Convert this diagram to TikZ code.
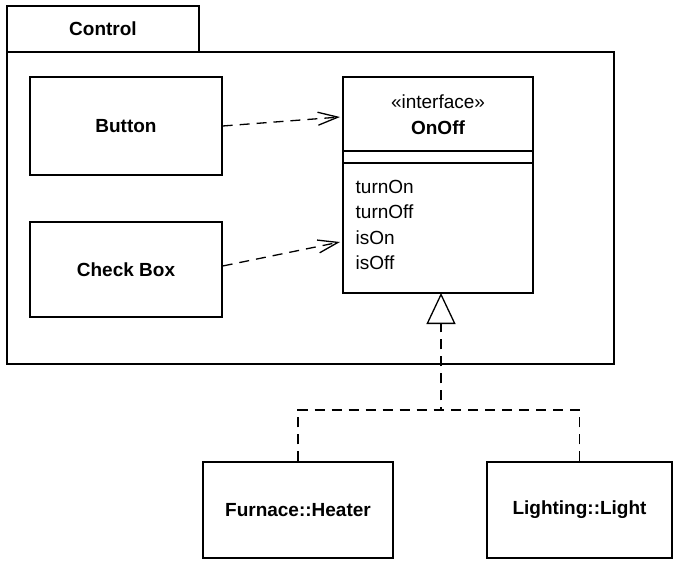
\documentclass[tikz,border=0pt]{standalone}
\usepackage{fontspec}
\setmainfont{Liberation Sans}
\usetikzlibrary{arrows.meta}
\begin{document}
\begin{tikzpicture}[x=1pt,y=1pt,
  line width=1.3pt,
  box/.style={draw, rectangle, inner sep=0pt, font=\fontsize{19}{22}\selectfont\bfseries},
  lbl/.style={inner sep=0pt, font=\fontsize{19}{22}\selectfont},
  dep/.style={dash pattern=on 10pt off 7pt, -{Straight Barb[length=20pt,width=13pt,line width=1.3pt]}},
  real/.style={dash pattern=on 10pt off 7pt}
]
\useasboundingbox (0,0) rectangle (674,-560);
% package
\node[box, minimum width=192pt, minimum height=46pt] (tab) at (103,-29) {Control};
\node[draw, rectangle, inner sep=0pt, minimum width=607pt, minimum height=312pt] (pkg) at (310.5,-208) {};
% classes
\node[box, minimum width=192pt, minimum height=98pt] (button) at (126,-126) {Button};
\node[box, minimum width=192pt, minimum height=95pt] (check) at (126,-269.5) {Check Box};
\node[draw, rectangle, inner sep=0pt, minimum width=190pt, minimum height=216pt] (onoff) at (438,-185) {};
\draw (onoff.north west |- 0,-151) coordinate (c1) -- (onoff.north east |- 0,-151) coordinate (c2);
\draw (onoff.north west |- 0,-163) coordinate (c3) -- (onoff.north east |- 0,-163) coordinate (c4);
\node[lbl] (stereo) at (438,-102) {«interface»};
\node[lbl, font=\fontsize{19}{22}\selectfont\bfseries] (name) at (438,-128) {OnOff};
\node[lbl, anchor=west] (op1) at (355,-187) {turnOn};
\node[lbl, anchor=west] (op2) at (355,-212) {turnOff};
\node[lbl, anchor=west] (op3) at (355,-238) {isOn};
\node[lbl, anchor=west] (op4) at (355,-263) {isOff};
\node[box, minimum width=190pt, minimum height=96pt] (heater) at (298,-510) {Furnace::Heater};
\node[box, minimum width=185pt, minimum height=96pt] (light) at (579.5,-510) {Lighting::Light};
% dependencies
\coordinate (t1) at (340,-117);
\coordinate (t2) at (340,-242);
\draw[dep] (button.east) -- (t1);
\draw[dep] (check.east |- 0,-266) -- (t2);
% realization
\coordinate (j) at (441,-410);
\coordinate (tip) at (441,-293);
\draw[real] (light.north) |- (j);
\draw[real, -{Triangle[open, length=31pt, width=29pt, line width=1.3pt]}] (heater.north) |- (j) -- (tip);
\end{tikzpicture}
\end{document}
